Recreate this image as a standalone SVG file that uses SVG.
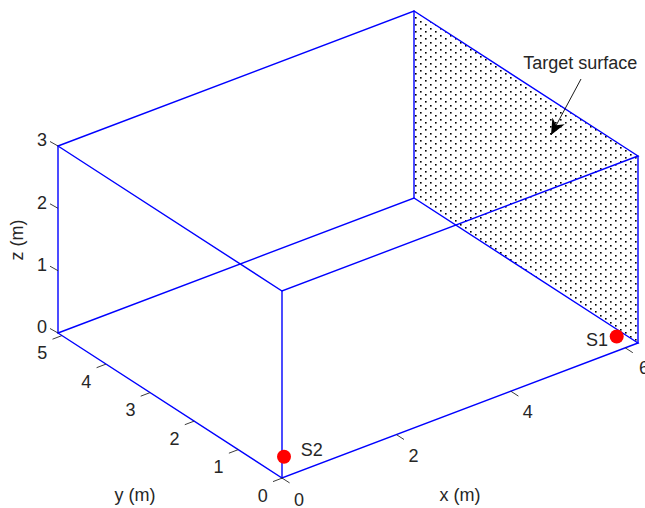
<svg xmlns="http://www.w3.org/2000/svg" width="645" height="508" viewBox="0 0 645 508">
<defs>
<pattern id="dots" patternUnits="userSpaceOnUse" x="0" y="0" width="10" height="7">
<rect x="0" y="0" width="1.6" height="1.6" fill="#000"/>
<rect x="5" y="3" width="1.6" height="1.6" fill="#000"/>
</pattern>
<marker id="ah" markerUnits="userSpaceOnUse" markerWidth="20" markerHeight="16" refX="16" refY="7" orient="auto">
<path d="M0,0 L16,7 L0,14 L5,7 Z" fill="#000"/>
</marker>
</defs>
<style>
.edge{stroke:#0000ff;stroke-width:1.4;fill:none;stroke-linecap:round}
.tick{stroke:#262626;stroke-width:0.9;fill:none}
.lbl{font-family:"Liberation Sans",Arial,sans-serif;font-size:18px;fill:#262626}
.mid{text-anchor:middle}
.src{fill:#ff0000}
</style>
<rect width="645" height="508" fill="#fff"/>
<g id="target-surface">
<polygon points="638,343 414,198 414,11 638,156" fill="url(#dots)"/>
</g>
<g id="box">
<path class="edge" d="M58,146 L414,11 L638,156 L282,291 Z"/>
<path class="edge" d="M58,333 L414,198 L638,343 L282,478 Z"/>
<path class="edge" d="M58,146 V333 M282,291 V478 M638,156 V343 M414,11 V198"/>
</g>
<g id="z-axis">
<path class="tick" d="M58,333 l-8,-4.5 M58,270.7 l-8,-4.5 M58,208.3 l-8,-4.5 M58,146 l-8,-4.5"/>
<text class="lbl" x="47" y="333.4" text-anchor="end">0</text>
<text class="lbl" x="47" y="271" text-anchor="end">1</text>
<text class="lbl" x="47" y="208.7" text-anchor="end">2</text>
<text class="lbl" x="47" y="146.4" text-anchor="end">3</text>
<text class="lbl mid" transform="translate(23,240) rotate(-90)">z (m)</text>
</g>
<g id="y-axis">
<path class="tick" d="M282.4,478 l-9.4,3.6 M238.3,449.6 l-9.4,3.6 M194.2,421.1 l-9.4,3.6 M150.1,392.6 l-9.4,3.6 M106,364.1 l-9.4,3.6 M61.9,335.6 l-9.4,3.6"/>
<text class="lbl mid" x="262.7" y="502">0</text>
<text class="lbl mid" x="218.6" y="473.3">1</text>
<text class="lbl mid" x="174.5" y="444.8">2</text>
<text class="lbl mid" x="130.4" y="416.3">3</text>
<text class="lbl mid" x="86.3" y="387.8">4</text>
<text class="lbl mid" x="42.2" y="359.4">5</text>
<text class="lbl mid" x="135" y="500.5">y (m)</text>
</g>
<g id="x-axis">
<path class="tick" d="M282,478 l7.6,4.9 M396.4,434.6 l7.6,4.9 M510.8,391.2 l7.6,4.9 M625.2,347.8 l7.6,4.9"/>
<text class="lbl mid" x="299" y="505.5">0</text>
<text class="lbl mid" x="413.4" y="461.5">2</text>
<text class="lbl mid" x="527.8" y="417.5">4</text>
<text class="lbl mid" x="644" y="373.5">6</text>
<text class="lbl mid" x="460" y="500.7">x (m)</text>
</g>
<g id="S1">
<circle class="src" cx="616.7" cy="336.5" r="7"/>
<text class="lbl mid" x="597" y="346">S1</text>
</g>
<g id="S2">
<circle class="src" cx="284" cy="456.7" r="7"/>
<text class="lbl" x="300.7" y="456">S2</text>
</g>
<g id="annotation">
<text class="lbl" x="523.3" y="69.3">Target surface</text>
</g>
<g id="connectors">
<line x1="581" y1="79" x2="551" y2="135" stroke="#000" stroke-width="0.9" marker-end="url(#ah)"/>
</g>
</svg>
